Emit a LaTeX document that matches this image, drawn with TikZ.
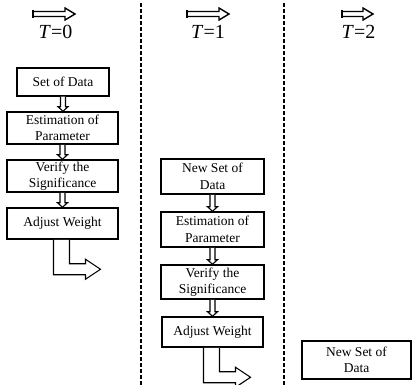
\documentclass[tikz,border=0pt]{standalone}
\usepackage{fontspec}
\setmainfont{Liberation Serif}
\usetikzlibrary{calc}
\tikzset{
  box/.style={draw, line width=1.5pt, align=center, inner sep=0pt,
    font=\fontsize{13.5}{16.5}\selectfont},
  blk/.style={draw, line width=1.1pt, line join=miter, fill=white},
  sep/.style={line width=1.3pt, dash pattern=on 4pt off 2pt},
  tlabel/.style={font=\fontsize{20}{24}\selectfont, inner sep=0pt},
}
\newcommand{\dnarrow}[2]{%
  \draw[blk] let \p1=(#1.south), \p2=(#2.north) in
    (\x1-2.5pt,\y1) -- (\x1-2.5pt,\y2+4.5pt) -- (\x1-5pt,\y2+4.5pt) --
    (\x1,\y2) -- (\x1+5pt,\y2+4.5pt) -- (\x1+2.5pt,\y2+4.5pt) -- (\x1+2.5pt,\y1);}
\newcommand{\bentarrow}[1]{%
  \draw[blk] let \p1=(#1.south) in
    (\x1-9pt,\y1) -- (\x1-9pt,\y1-35pt) -- (\x1+23pt,\y1-35pt) --
    (\x1+23pt,\y1-39.5pt) -- (\x1+38pt,\y1-29.5pt) -- (\x1+23pt,\y1-19.5pt) --
    (\x1+23pt,\y1-24pt) -- (\x1+7pt,\y1-24pt) -- (\x1+7pt,\y1);}
\newcommand{\toparrow}[3]{%
  \draw[blk, line width=1.4pt] (#1,#3-2.5) -- (#2-10,#3-2.5) -- (#2-10,#3-6) -- (#2,#3) --
    (#2-10,#3+6) -- (#2-10,#3+2.5) -- (#1,#3+2.5) -- cycle;
  \draw[line width=1.5pt] (#1,#3-4) -- (#1,#3+4);}
\begin{document}
\begin{tikzpicture}[x=1pt,y=-1pt]
\useasboundingbox (0,0) rectangle (412,385);
% separators
\draw[sep] (141,3) -- (141,385);
\draw[sep] (284,3) -- (284,385);
% time labels
\toparrow{33}{75}{14}
\toparrow{187}{229}{14}
\toparrow{342}{373}{14}
\node[tlabel] (t0) at (55.5,32) {\textit{T}=0};
\node[tlabel] (t1) at (208,32) {\textit{T}=1};
\node[tlabel] (t2) at (358.5,32) {\textit{T}=2};
% T=0 column
\node[box, minimum width=92pt, minimum height=28pt] (a1) at (63,82) {Set of Data};
\node[box, minimum width=111pt, minimum height=32pt] (a2) at (62.5,128) {Estimation of\\Parameter};
\node[box, minimum width=111pt, minimum height=32pt] (a3) at (62.5,176) {Verify the\\Significance};
\node[box, minimum width=111pt, minimum height=31pt] (a4) at (62.5,223.5) {Adjust Weight};
\dnarrow{a1}{a2}
\dnarrow{a2}{a3}
\dnarrow{a3}{a4}
\bentarrow{a4}
% T=1 column
\node[box, minimum width=103pt, minimum height=35pt] (b1) at (212.5,176.5) {New Set of\\Data};
\node[box, minimum width=103pt, minimum height=35pt] (b2) at (212.5,229.5) {Estimation of\\Parameter};
\node[box, minimum width=103pt, minimum height=34pt] (b3) at (212.5,282) {Verify the\\Significance};
\node[box, minimum width=101pt, minimum height=30pt] (b4) at (212.5,332) {Adjust Weight};
\dnarrow{b1}{b2}
\dnarrow{b2}{b3}
\dnarrow{b3}{b4}
\bentarrow{b4}
% T=2 column
\node[box, minimum width=109pt, minimum height=38pt] (c1) at (356.5,360) {New Set of\\Data};
\end{tikzpicture}
\end{document}
